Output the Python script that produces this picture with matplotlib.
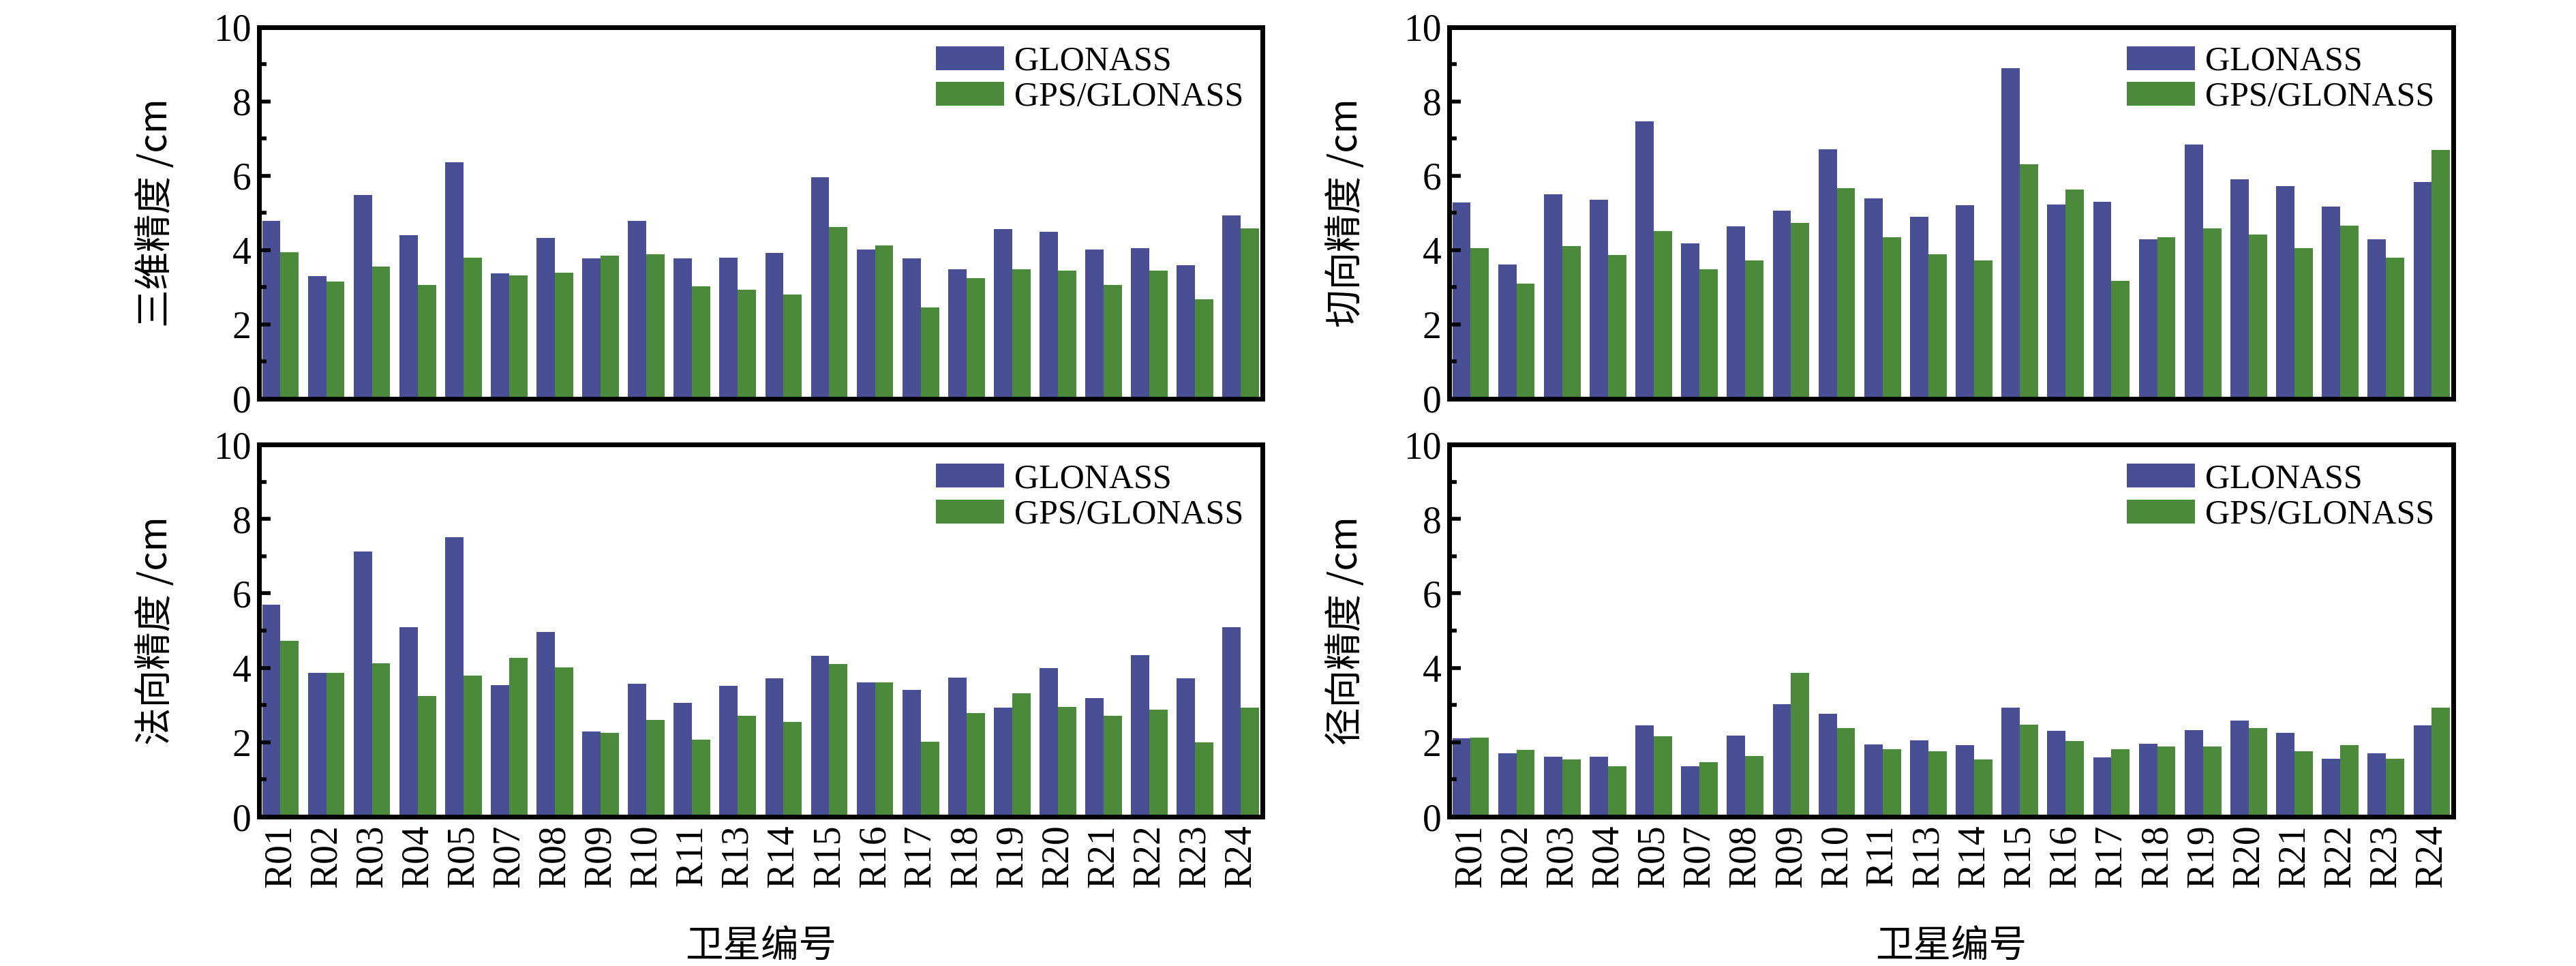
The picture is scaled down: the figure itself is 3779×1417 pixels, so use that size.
import numpy as np
import matplotlib
matplotlib.use("Agg")
import matplotlib.pyplot as plt

sats = ["R01", "R02", "R03", "R04", "R05", "R07", "R08", "R09", "R10", "R11", "R13",
        "R14", "R15", "R16", "R17", "R18", "R19", "R20", "R21", "R22", "R23", "R24"]

# 三维精度
glo_3d = [4.79, 3.31, 5.49, 4.41, 6.37, 3.38, 4.33, 3.78, 4.79, 3.78, 3.79,
          3.93, 5.96, 4.01, 3.78, 3.49, 4.56, 4.49, 4.02, 4.06, 3.59, 4.94]
gg_3d = [3.94, 3.16, 3.56, 3.07, 3.79, 3.32, 3.40, 3.85, 3.88, 3.02, 2.93,
         2.81, 4.63, 4.13, 2.46, 3.24, 3.49, 3.44, 3.07, 3.44, 2.67, 4.59]
# 切向精度
glo_along = [5.28, 3.62, 5.51, 5.35, 7.46, 4.18, 4.65, 5.07, 6.72, 5.40, 4.89,
             5.21, 8.89, 5.22, 5.30, 4.30, 6.84, 5.90, 5.73, 5.17, 4.30, 5.84]
gg_along = [4.05, 3.10, 4.11, 3.87, 4.51, 3.49, 3.73, 4.74, 5.67, 4.35, 3.88,
            3.72, 6.32, 5.64, 3.18, 4.34, 4.59, 4.43, 4.05, 4.66, 3.79, 6.69]
# 法向精度
glo_cross = [5.70, 3.87, 7.13, 5.09, 7.51, 3.54, 4.96, 2.29, 3.57, 3.06, 3.52,
             3.72, 4.32, 3.61, 3.41, 3.74, 2.94, 3.99, 3.18, 4.34, 3.72, 5.09]
gg_cross = [4.73, 3.87, 4.12, 3.25, 3.79, 4.27, 4.01, 2.25, 2.61, 2.08, 2.71,
            2.54, 4.10, 3.61, 2.01, 2.79, 3.32, 2.95, 2.71, 2.87, 2.00, 2.94]
# 径向精度
glo_radial = [2.10, 1.71, 1.61, 1.62, 2.45, 1.36, 2.18, 3.03, 2.77, 1.94, 2.05,
              1.92, 2.94, 2.31, 1.60, 1.96, 2.32, 2.58, 2.25, 1.56, 1.71, 2.45]
gg_radial = [2.12, 1.79, 1.54, 1.36, 2.16, 1.47, 1.63, 3.87, 2.39, 1.81, 1.76,
             1.54, 2.47, 2.03, 1.81, 1.89, 1.89, 2.38, 1.76, 1.92, 1.55, 2.94]

plt.rcParams['font.family'] = ['Liberation Serif', 'Noto Sans CJK SC']

blue = "#484f95"
green = "#4a8a3a"
cjk = ['Noto Sans CJK SC', 'Liberation Serif']

fig = plt.figure(figsize=(37.8, 14.17), dpi=100)

panels = [
    ([0.1005, 0.5872, 0.3894, 0.3846], glo_3d, gg_3d, "三维精度 /cm", False),
    ([0.5624, 0.5872, 0.3897, 0.3846], glo_along, gg_along, "切向精度 /cm", False),
    ([0.1005, 0.1545, 0.3894, 0.3853], glo_cross, gg_cross, "法向精度 /cm", True),
    ([0.5624, 0.1545, 0.3897, 0.3853], glo_radial, gg_radial, "径向精度 /cm", True),
]

x = np.arange(len(sats))
w = 0.4
for rect, g1, g2, ylab, bottom in panels:
    ax = fig.add_axes(rect)
    ax.bar(x - w / 2, g1, w, color=blue, label="GLONASS")
    ax.bar(x + w / 2, g2, w, color=green, label="GPS/GLONASS")
    ax.set_xlim(-0.47, len(sats) - 1 + 0.47)
    ax.set_ylim(0, 10)
    ax.set_yticks(range(0, 11, 2))
    ax.set_yticks(range(1, 10, 2), minor=True)
    ax.tick_params(axis='y', which='major', direction='in', length=12, width=4,
                   labelsize=40, pad=8, right=False)
    ax.tick_params(axis='y', which='minor', direction='in', length=8, width=4)
    ax.set_xticks(x)
    if bottom:
        ax.set_xticklabels(sats, rotation=90, fontsize=40)
        ax.set_xlabel("卫星编号", fontsize=40, labelpad=42, family=cjk)
    else:
        ax.set_xticklabels([])
    ax.tick_params(axis='x', length=0, pad=8)
    for s in ax.spines.values():
        s.set_linewidth(5)
    ax.set_ylabel(ylab, fontsize=40, labelpad=40, family=cjk)
    ax.legend(loc='upper right', frameon=False, fontsize=36,
              handlelength=2.0, handleheight=0.7, handletextpad=0.3,
              labelspacing=0.12, borderaxespad=0.15)

fig.savefig("out.png", dpi=100)
